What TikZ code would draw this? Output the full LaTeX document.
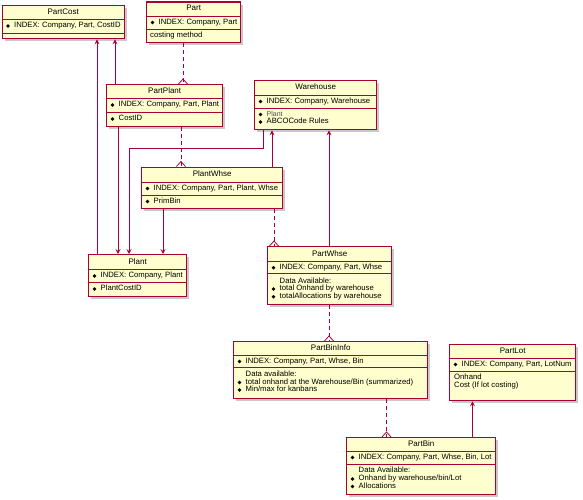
\documentclass[tikz,border=0pt]{standalone}
\usepackage{fontspec}
\setmainfont{Liberation Sans}
\usetikzlibrary{arrows.meta,shadows}
\definecolor{umlfill}{HTML}{FEFECE}
\definecolor{umlline}{HTML}{A80036}
\tikzset{
  umlbox/.style={draw=umlline, line width=1.4pt, fill=umlfill, rectangle, inner sep=0pt, anchor=north west,
    drop shadow={shadow xshift=2.5pt, shadow yshift=-2.5pt, opacity=0.3, fill=black!70}},
  divline/.style={draw=umlline, line width=0.8pt},
  ttl/.style={inner sep=0pt, font=\fontsize{8}{9}\selectfont, text height=5.8pt, text depth=1.7pt},
  itm/.style={inner sep=0pt, anchor=west, font=\fontsize{7.7}{8}\selectfont, text height=5.5pt, text depth=1.6pt},
  conn/.style={draw=umlline, line width=0.8pt},
  arr/.style={conn, -{Stealth[length=5pt,width=5pt,inset=2pt]}},
  dep/.style={conn, dash pattern=on 4pt off 3pt},
  crow/.style={draw=umlline, line width=0.8pt},
}
\newcommand\UmlBox[5]{\node[umlbox, minimum width={#4pt-#2pt}, minimum height={#5pt-#3pt}] (#1) at (#2,#3) {};}
\newcommand\UmlDiv[2]{\draw[divline] (#1.west |- 0,#2) -- (#1.east |- 0,#2);}
\newcommand\UmlTitle[4]{\node[ttl] (#2) at (#1.center |- 0,#3) {#4};}
\newcommand\UmlItem[4]{%
  \fill ([xshift=6.5pt]#1.west |- 0,#3) circle (1.9pt);
  \node[itm] (#2) at ([xshift=12.5pt]#1.west |- 0,#3) {#4};}
\newcommand\UmlText[5]{\node[itm] (#2) at ([xshift=#5pt]#1.west |- 0,#3) {#4};}
\newcommand\UmlCrow[2]{\draw[crow] ([xshift=-4.5pt]#1.north -| #2,0) -- ([yshift=5pt]#1.north -| #2,0) -- ([xshift=4.5pt]#1.north -| #2,0);}
\begin{document}
\begin{tikzpicture}[x=1pt,y=-1pt]
\useasboundingbox (0,0) rectangle (583,500);

% ---------- boxes ----------
\UmlBox{partcost}{1.5}{5}{123.5}{38}
\UmlBox{part}{146}{1.5}{240}{42}
\UmlBox{partplant}{106}{84}{222}{126}
\UmlBox{warehouse}{254}{80}{376}{129}
\UmlBox{plantwhse}{141}{166.5}{282}{208}
\UmlBox{plant}{88}{254}{186}{295.5}
\UmlBox{partwhse}{267}{246}{391}{304}
\UmlBox{partbininfo}{233}{341}{427}{398}
\UmlBox{partlot}{449}{344}{575}{400}
\UmlBox{partbin}{346}{437}{495}{494}

% ---------- PartCost ----------
\UmlTitle{partcost}{partcostT}{12}{PartCost}
\UmlDiv{partcost}{19}
\UmlItem{partcost}{partcostA}{26}{INDEX: Company, Part, CostID}
\UmlDiv{partcost}{33}

% ---------- Part ----------
\UmlTitle{part}{partT}{8.5}{Part}
\UmlDiv{part}{16}
\UmlItem{part}{partA}{22.5}{INDEX: Company, Part}
\UmlDiv{part}{29}
\UmlText{part}{partB}{35.5}{costing method}{4}

% ---------- PartPlant ----------
\UmlTitle{partplant}{partplantT}{91}{PartPlant}
\UmlDiv{partplant}{98}
\UmlItem{partplant}{partplantA}{105}{INDEX: Company, Part, Plant}
\UmlDiv{partplant}{112}
\UmlItem{partplant}{partplantB}{119}{CostID}

% ---------- Warehouse ----------
\UmlTitle{warehouse}{warehouseT}{87.5}{Warehouse}
\UmlDiv{warehouse}{95}
\UmlItem{warehouse}{warehouseA}{101.5}{INDEX: Company, Warehouse}
\UmlDiv{warehouse}{108.5}
\UmlItem{warehouse}{warehouseB}{114.5}{\fontsize{7}{8}\selectfont\color{black!70}Plant}
\UmlItem{warehouse}{warehouseC}{122}{ABCOCode Rules}

% ---------- PlantWhse ----------
\UmlTitle{plantwhse}{plantwhseT}{174.5}{PlantWhse}
\UmlDiv{plantwhse}{182}
\UmlItem{plantwhse}{plantwhseA}{188.5}{INDEX: Company, Part, Plant, Whse}
\UmlDiv{plantwhse}{195}
\UmlItem{plantwhse}{plantwhseB}{201.5}{PrimBin}

% ---------- Plant ----------
\UmlTitle{plant}{plantT}{262}{Plant}
\UmlDiv{plant}{269.5}
\UmlItem{plant}{plantA}{276}{INDEX: Company, Plant}
\UmlDiv{plant}{282.5}
\UmlItem{plant}{plantB}{289}{PlantCostID}

% ---------- PartWhse ----------
\UmlTitle{partwhse}{partwhseT}{254}{PartWhse}
\UmlDiv{partwhse}{261.5}
\UmlItem{partwhse}{partwhseA}{267.7}{INDEX: Company, Part, Whse}
\UmlDiv{partwhse}{273.5}
\UmlText{partwhse}{partwhseB}{281.5}{Data Available:}{12.5}
\UmlItem{partwhse}{partwhseC}{289}{total Onhand by warehouse}
\UmlItem{partwhse}{partwhseD}{296.7}{totalAllocations by warehouse}

% ---------- PartBinInfo ----------
\UmlTitle{partbininfo}{partbininfoT}{348}{PartBinInfo}
\UmlDiv{partbininfo}{355}
\UmlItem{partbininfo}{partbininfoA}{361.5}{INDEX: Company, Part, Whse, Bin}
\UmlDiv{partbininfo}{367.5}
\UmlText{partbininfo}{partbininfoB}{375}{Data available:}{12.5}
\UmlItem{partbininfo}{partbininfoC}{382.5}{total onhand at the Warehouse/Bin (summarized)}
\UmlItem{partbininfo}{partbininfoD}{390}{Min/max for kanbans}

% ---------- PartLot ----------
\UmlTitle{partlot}{partlotT}{351}{PartLot}
\UmlDiv{partlot}{358}
\UmlItem{partlot}{partlotA}{364.5}{INDEX: Company, Part, LotNum}
\UmlDiv{partlot}{371}
\UmlText{partlot}{partlotB}{378}{Onhand}{5}
\UmlText{partlot}{partlotC}{386}{Cost (If lot costing)}{5}

% ---------- PartBin ----------
\UmlTitle{partbin}{partbinT}{444}{PartBin}
\UmlDiv{partbin}{451}
\UmlItem{partbin}{partbinA}{457.5}{INDEX: Company, Part, Whse, Bin, Lot}
\UmlDiv{partbin}{464}
\UmlText{partbin}{partbinB}{471}{Data Available:}{12.5}
\UmlItem{partbin}{partbinC}{479}{Onhand by warehouse/bin/Lot}
\UmlItem{partbin}{partbinD}{486.5}{Allocations}

% ---------- solid connectors ----------
\draw[arr] (partplant.north -| 115,0) -- (partcost.south -| 115,0);
\draw[arr] (plant.north -| 97,0) -- (partcost.south -| 97,0);
\draw[arr] (partplant.south -| 118,0) -- (plant.north -| 118,0);
\coordinate (wbend) at (129,148);
\draw[arr] (warehouse.south -| 263,0) |- (wbend) -- (plant.north -| wbend);
\draw[arr] (plantwhse.south -| 163,0) -- (plant.north -| 163,0);
\draw[arr] (plantwhse.north -| 272,0) -- (warehouse.south -| 272,0);
\draw[arr] (partwhse.north -| 329,0) -- (warehouse.south -| 329,0);
\draw[arr] (partbin.north -| 472.5,0) -- (partlot.south -| 472.5,0);

% ---------- dashed connectors ----------
\draw[dep] (part.south -| 183,0) -- (partplant.north -| 183,0);
\UmlCrow{partplant}{183}
\draw[dep] (partplant.south -| 181,0) -- (plantwhse.north -| 181,0);
\UmlCrow{plantwhse}{181}
\draw[dep] (plantwhse.south -| 274,0) -- (partwhse.north -| 274,0);
\UmlCrow{partwhse}{274}
\draw[dep] (partwhse.south -| 329,0) -- (partbininfo.north -| 329,0);
\UmlCrow{partbininfo}{329}
\draw[dep] (partbininfo.south -| 386.5,0) -- (partbin.north -| 386.5,0);
\UmlCrow{partbin}{386.5}
\end{tikzpicture}
\end{document}
